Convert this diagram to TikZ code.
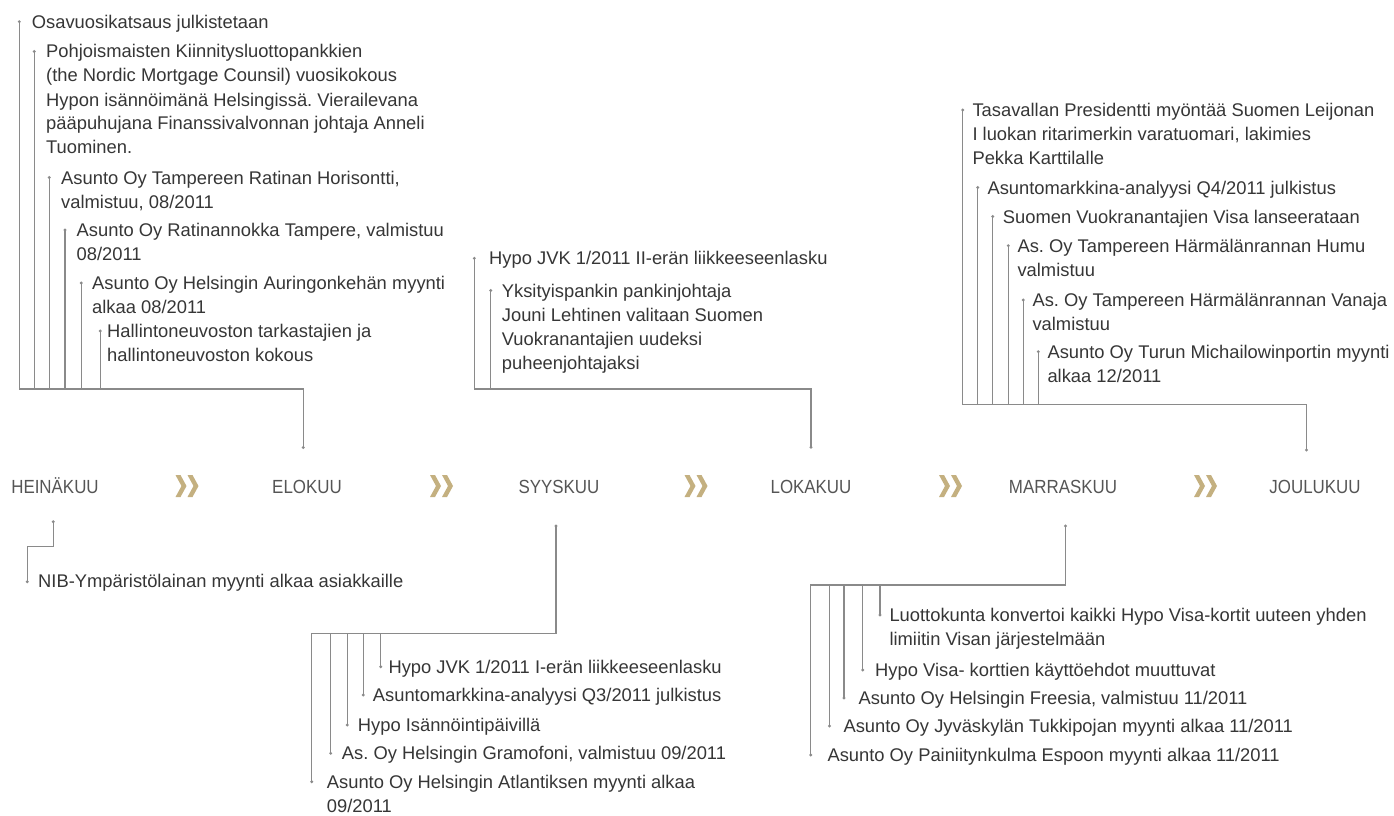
\documentclass[tikz,border=0pt]{standalone}
\usepackage{fontspec}
\setmainfont{Liberation Sans}
\newfontfamily\labelfont[FakeStretch=0.89]{Liberation Sans}
\definecolor{ln}{HTML}{8A8A8A}
\definecolor{tx}{HTML}{363636}
\definecolor{lb}{HTML}{555555}
\definecolor{gold}{HTML}{C4B080}
\newcommand{\ml}[1]{\begin{tabular}[t]{@{}l@{}}#1\end{tabular}}
\frenchspacing
\begin{document}
\begin{tikzpicture}[x=1pt,y=-1pt,
  txt/.style={anchor=base west, inner sep=0pt, text=tx, font=\frenchspacing\fontsize{18.35}{24}\selectfont},
  month/.style={anchor=base, inner sep=0pt, text=lb, font=\labelfont\fontsize{19}{24}\selectfont},
  conn/.style={draw=ln, line width=1.2pt},
  enddot/.style={fill=ln}]
\fill[white] (0,0) rectangle (1394,816);
\useasboundingbox (0,0) rectangle (1394,816);

% months
\node[month] (m7)  at (55,493)   {HEINÄKUU};
\node[month] (m8)  at (307,493)  {ELOKUU};
\node[month] (m9)  at (559,493)  {SYYSKUU};
\node[month] (m10) at (811,493)  {LOKAKUU};
\node[month] (m11) at (1063,493) {MARRASKUU};
\node[month] (m12) at (1315,493) {JOULUKUU};

% chevrons
\foreach \cx in {187,441.5,696,950.5,1205.5}{
  \foreach \dx in {0,12}{
    \fill[gold] (\cx-11.5+\dx,475) -- ++(5,0) -- ++(6,11) -- ++(-6,11) -- ++(-5,0) -- ++(6,-11) -- cycle;
  }
}

% ---- group A (heinakuu -> elokuu)
\coordinate (a1) at (19.3,21.7);
\coordinate (a2) at (34.3,51.5);
\coordinate (a3) at (49.3,177.5);
\coordinate (a4) at (65,230);
\coordinate (a5) at (81.3,283);
\coordinate (a6) at (100.3,331);
\coordinate (busA) at (303.3,389);
\coordinate (endA) at (303.3,447.5);
\node[txt] (ta1) at (31.7,28.2) {Osavuosikatsaus julkistetaan};
\node[txt] (ta2) at (46,58) {\ml{Pohjoismaisten Kiinnitysluottopankkien\\(the Nordic Mortgage Counsil) vuosikokous\\Hypon isännöimänä Helsingissä. Vierailevana\\pääpuhujana Finanssivalvonnan johtaja Anneli\\Tuominen.}};
\node[txt] (ta3) at (61,184) {\ml{Asunto Oy Tampereen Ratinan Horisontti,\\valmistuu, 08/2011}};
\node[txt] (ta4) at (76.5,236.5) {\ml{Asunto Oy Ratinannokka Tampere, valmistuu\\08/2011}};
\node[txt] (ta5) at (92,289.5) {\ml{Asunto Oy Helsingin Auringonkehän myynti\\alkaa 08/2011}};
\node[txt] (ta6) at (107,337.5) {\ml{Hallintoneuvoston tarkastajien ja\\hallintoneuvoston kokous}};
\draw[conn] (a1) |- (busA) -- (endA);
\foreach \p in {a2,a3,a4,a5,a6} \draw[conn] (\p) -- (\p |- busA);

% ---- group B (syyskuu -> lokakuu)
\coordinate (b1) at (474.3,258.3);
\coordinate (b2) at (490.7,290.5);
\coordinate (busB) at (811,389);
\coordinate (endB) at (811,447.3);
\node[txt] (tb1) at (489,264.8) {Hypo JVK 1/2011 II-erän liikkeeseenlasku};
\node[txt] (tb2) at (501.7,297.5) {\ml{Yksityispankin pankinjohtaja\\Jouni Lehtinen valitaan Suomen\\Vuokranantajien uudeksi\\puheenjohtajaksi}};
\draw[conn] (b1) |- (busB) -- (endB);
\draw[conn] (b2) -- (b2 |- busB);

% ---- group C (marraskuu -> joulukuu)
\coordinate (c1) at (962.7,110);
\coordinate (c2) at (977.7,187.5);
\coordinate (c3) at (992.7,216.5);
\coordinate (c4) at (1008.3,245.7);
\coordinate (c5) at (1023.3,300);
\coordinate (c6) at (1038.3,351.7);
\coordinate (busC) at (1306.5,404.5);
\coordinate (endC) at (1306.5,450);
\node[txt] (tc1) at (972.3,116.5) {\ml{Tasavallan Presidentti myöntää Suomen Leijonan\\I luokan ritarimerkin varatuomari, lakimies\\Pekka Karttilalle}};
\node[txt] (tc2) at (987.3,194) {Asuntomarkkina-analyysi Q4/2011 julkistus};
\node[txt] (tc3) at (1002.7,223) {Suomen Vuokranantajien Visa lanseerataan};
\node[txt] (tc4) at (1017.3,252.2) {\ml{As. Oy Tampereen Härmälänrannan Humu\\valmistuu}};
\node[txt] (tc5) at (1032.3,306.5) {\ml{As. Oy Tampereen Härmälänrannan Vanaja\\valmistuu}};
\node[txt] (tc6) at (1047.3,358.2) {\ml{Asunto Oy Turun Michailowinportin myynti\\alkaa 12/2011}};
\draw[conn] (c1) |- (busC) -- (endC);
\foreach \p in {c2,c3,c4,c5,c6} \draw[conn] (\p) -- (\p |- busC);

% ---- group D (below heinakuu)
\coordinate (d0) at (53.3,521.7);
\coordinate (dbend) at (27.3,546.7);
\coordinate (d1) at (27.3,581.7);
\node[txt] (td) at (38,587.2) {NIB-Ympäristölainan myynti alkaa asiakkaille};
\draw[conn] (d0) |- (dbend) -- (d1);

% ---- group E (below syyskuu)
\coordinate (e0) at (556,526);
\coordinate (busE) at (311.7,633.3);
\coordinate (e1) at (380.7,666.7);
\coordinate (e2) at (363.3,695);
\coordinate (e3) at (347.3,725);
\coordinate (e4) at (330.7,753.3);
\coordinate (e5) at (311.7,781.7);
\node[txt] (te1) at (388.3,673.2) {Hypo JVK 1/2011 I-erän liikkeeseenlasku};
\node[txt] (te2) at (372.7,701.5) {Asuntomarkkina-analyysi Q3/2011 julkistus};
\node[txt] (te3) at (357.7,731.5) {Hypo Isännöintipäivillä};
\node[txt] (te4) at (341.7,759.8) {As. Oy Helsingin Gramofoni, valmistuu 09/2011};
\node[txt] (te5) at (326.7,788.2) {\ml{Asunto Oy Helsingin Atlantiksen myynti alkaa\\09/2011}};
\draw[conn] (e0) |- (busE) -- (e5);
\foreach \p in {e1,e2,e3,e4} \draw[conn] (\p |- busE) -- (\p);

% ---- group F (below marraskuu)
\coordinate (f0) at (1065.5,526);
\coordinate (busF) at (810.7,585);
\coordinate (f1) at (880,615);
\coordinate (f2) at (862.7,670);
\coordinate (f3) at (844,698);
\coordinate (f4) at (829.5,726);
\coordinate (f5) at (810.7,755);
\node[txt] (tf1) at (889.3,621.5) {\ml{Luottokunta konvertoi kaikki Hypo Visa-kortit uuteen yhden\\limiitin Visan järjestelmään}};
\node[txt] (tf2) at (875,676.5) {Hypo Visa- korttien käyttöehdot muuttuvat};
\node[txt] (tf3) at (858.3,704.5) {Asunto Oy Helsingin Freesia, valmistuu 11/2011};
\node[txt] (tf4) at (843.3,732.5) {Asunto Oy Jyväskylän Tukkipojan myynti alkaa 11/2011};
\node[txt] (tf5) at (827.3,761.5) {Asunto Oy Painiitynkulma Espoon myynti alkaa 11/2011};
\draw[conn] (f0) |- (busF) -- (f5);
\foreach \p in {f1,f2,f3,f4} \draw[conn] (\p |- busF) -- (\p);

% end dots
\foreach \p in {a1,a2,a3,a4,a5,a6,endA,b1,b2,endB,c1,c2,c3,c4,c5,c6,endC,d0,d1,e0,e1,e2,e3,e4,e5,f0,f1,f2,f3,f4,f5}
  \fill[enddot] (\p) circle (1.6pt);
\end{tikzpicture}
\end{document}
